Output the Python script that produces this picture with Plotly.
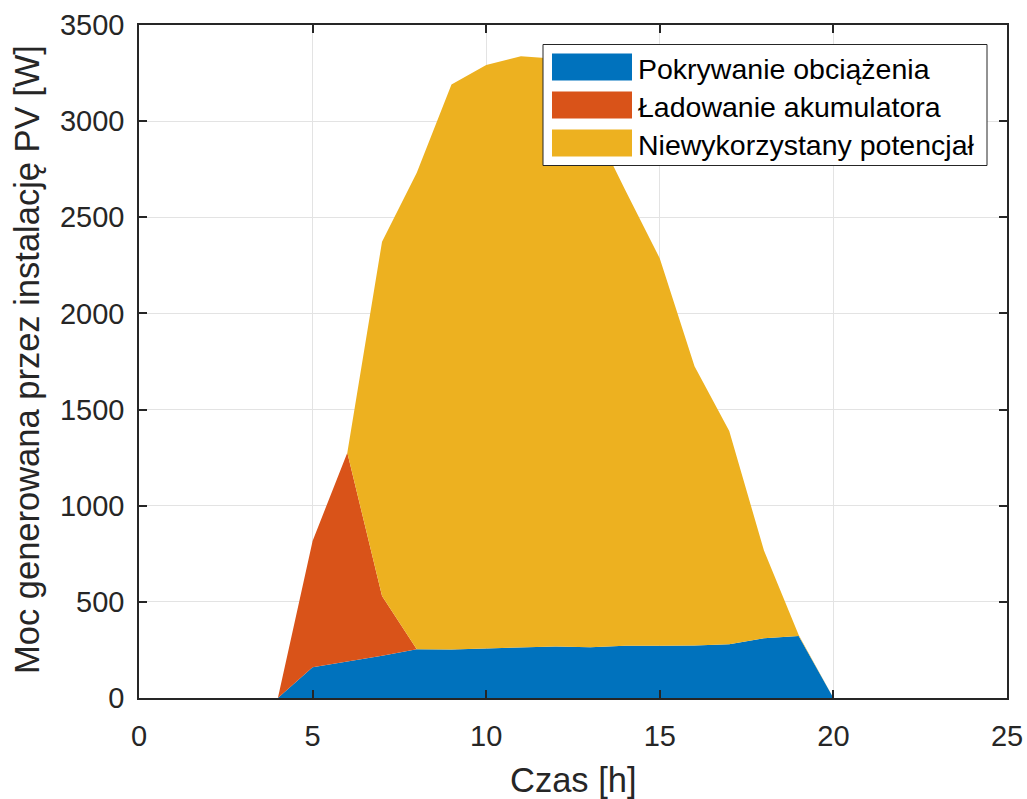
import plotly.graph_objects as go

# Hourly PV generation split (W)
hours = list(range(0, 25))
pokrywanie = [0, 0, 0, 0, 0, 160, 190, 220, 254, 252, 258, 262, 268, 264, 272, 272,
              273, 280, 311, 323, 0, 0, 0, 0, 0]
ladowanie = [0, 0, 0, 0, 0, 657, 1085, 311, 0, 0, 0, 0, 0, 0, 0, 0,
             0, 0, 0, 0, 0, 0, 0, 0, 0]
niewykorzystany = [0, 0, 0, 0, 0, 0, 0, 1842, 2477, 2938, 3034, 3076, 3057, 2746, 2371, 2014,
                   1452, 1108, 456, 4, 0, 0, 0, 0, 0]

series_names = ["Pokrywanie obciążenia", "Ładowanie akumulatora", "Niewykorzystany potencjał"]
series_values = [pokrywanie, ladowanie, niewykorzystany]
colors = ["#0072BD", "#D95319", "#EDB120"]

x_ticks = [0, 5, 10, 15, 20, 25]
y_ticks = [0, 500, 1000, 1500, 2000, 2500, 3000, 3500]
x_title = "Czas [h]"
y_title = "Moc generowana przez instalację PV [W]"

FONT = "Liberation Sans, Arial, Helvetica, sans-serif"
AX = "#262626"

fig = go.Figure()
for name, vals, col in zip(series_names, series_values, colors):
    fig.add_trace(go.Scatter(
        x=hours, y=vals, name=name, mode="lines",
        stackgroup="pv", line=dict(width=0, color=col),
        fillcolor=col, showlegend=False, hoverinfo="x+y+name",
    ))

W, H = 1027, 799
L, R, T, B = 139, 20, 25, 101
pw, ph = W - L - R, H - T - B


def px(x):
    return (x - L) / pw


def py(y):
    return (H - B - y) / ph


# Legend box with wide colour swatches
shapes = [dict(type="rect", xref="paper", yref="paper",
               x0=px(543), x1=px(987), y0=py(165.5), y1=py(44.5),
               line=dict(color=AX, width=1), fillcolor="white", layer="above")]
annotations = []
rows = [(53.5, 80.5), (91.5, 118.5), (129.5, 156.5)]
for (top, bot), name, col in zip(rows, series_names, colors):
    shapes.append(dict(type="rect", xref="paper", yref="paper",
                       x0=px(552), x1=px(632), y0=py(bot), y1=py(top),
                       line=dict(width=0), fillcolor=col, layer="above"))
    annotations.append(dict(xref="paper", yref="paper", x=px(636), y=py((top + bot) / 2 + 1.5),
                            xanchor="left", yanchor="middle", text=name, showarrow=False,
                            font=dict(family=FONT, size=28.5, color="black")))

# Axis titles
annotations.append(dict(xref="paper", yref="paper", x=px((L + W - R) / 2), y=py(780),
                        xanchor="center", yanchor="middle", text=x_title, showarrow=False,
                        font=dict(family=FONT, size=34.5, color=AX)))
annotations.append(dict(xref="paper", yref="paper", x=px(27), y=py(360),
                        xanchor="center", yanchor="middle", text=y_title, showarrow=False,
                        textangle=-90, font=dict(family=FONT, size=34.5, color=AX)))

axis_common = dict(
    showline=True, linecolor=AX, linewidth=1.6, mirror="ticks",
    ticks="inside", ticklen=8, tickwidth=1.6, tickcolor=AX,
    showgrid=True, gridcolor="#e3e3e3", gridwidth=1, zeroline=False,
    tickfont=dict(family=FONT, size=29, color=AX),
    layer="above traces", automargin=False,
)

fig.update_layout(
    width=W, height=H,
    margin=dict(l=L, r=R, t=T, b=B, pad=0, autoexpand=False),
    paper_bgcolor="white", plot_bgcolor="white",
    xaxis=dict(range=[0, 25], tickvals=x_ticks, ticktext=[str(v) for v in x_ticks],
               ticklabelstandoff=11, **axis_common),
    yaxis=dict(range=[0, 3500], tickvals=y_ticks, ticktext=[str(v) for v in y_ticks],
               ticklabelstandoff=7, **axis_common),
    shapes=shapes, annotations=annotations, showlegend=False,
)

fig.write_html("out.html")
